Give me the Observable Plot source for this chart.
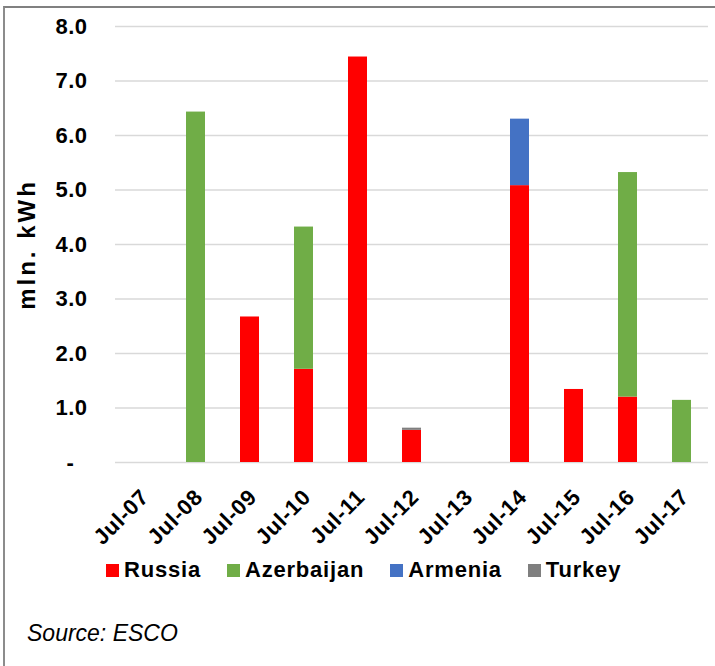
<!DOCTYPE html>
<html>
<head>
<meta charset="utf-8">
<script src="https://cdn.jsdelivr.net/npm/d3@7"></script>
<script src="https://cdn.jsdelivr.net/npm/@observablehq/plot@0.6"></script>
<style>
  html, body { margin: 0; padding: 0; background: #fff; overflow: hidden; }
  #wrap { position: relative; width: 715px; height: 666px; font-family: Arial, "Liberation Sans", sans-serif; overflow: hidden; }
  #frame { position: absolute; left: 3px; top: 6px; width: 900px; height: 900px;
           border-left: 2px solid #8c8c8c; border-top: 2px solid #808080; }
  #chart { position: absolute; left: 0; top: 0; }
  #chart svg g[aria-label="y-axis tick label"] text { letter-spacing: 0.5px; }
  #chart svg g[aria-label="x-axis tick label"] text { letter-spacing: 0.6px; }
  #chart svg g[aria-label="text"] text { letter-spacing: 3px; }
  #legend { position: absolute; left: 106px; top: 560px; }
  #legend .leg-swatches { font-family: Arial, "Liberation Sans", sans-serif; font-size: 22px; font-weight: bold;
                          letter-spacing: 0.8px; color: #000; margin: 0; min-height: 20px; line-height: 20px; }
  #legend .leg-swatch { margin-right: 26px; }
  #legend .leg-swatch > svg { margin-right: 5px; }
  #source { position: absolute; left: 27px; top: 622px; font-size: 23px; line-height: 23px; font-style: italic; color: #000; }
</style>
</head>
<body>
<div id="wrap">
  <div id="frame"></div>
  <div id="chart"></div>
  <div id="legend"></div>
  <div id="source"></div>
</div>
<script>
// Electricity exports by destination, million kWh, July of each year
const months = ["Jul-07", "Jul-08", "Jul-09", "Jul-10", "Jul-11", "Jul-12", "Jul-13", "Jul-14", "Jul-15", "Jul-16", "Jul-17"];
const russia     = [0, 0,    2.67, 1.71, 7.44, 0.59, 0, 5.08, 1.34, 1.20, 0];
const azerbaijan = [0, 6.43, 0,    2.61, 0,    0,    0, 0,    0,    4.12, 1.14];
const armenia    = [0, 0,    0,    0,    0,    0,    0, 1.22, 0,    0,    0];
const turkey     = [0, 0,    0,    0,    0,    0.04, 0, 0,    0,    0,    0];

const countries = ["Russia", "Azerbaijan", "Armenia", "Turkey"];
const colors = ["#ff0000", "#70ad47", "#4472c4", "#7f7f7f"];
const yTicks = [0, 1, 2, 3, 4, 5, 6, 7, 8];
const yLabel = "mln. kWh";
const sourceText = "Source: ESCO";

// Long table: one row per month and country, stacked in country order
const series = [russia, azerbaijan, armenia, turkey];
const rows = countries.flatMap((country, k) =>
  months.map((month, i) => ({month, country, value: series[k][i]}))
);

const font = "Arial, 'Liberation Sans', sans-serif";

const chart = Plot.plot({
  width: 715,
  height: 560,
  marginLeft: 115,
  marginRight: 7,
  marginTop: 26,
  marginBottom: 98,
  style: {fontFamily: font, background: "transparent", color: "#000", overflow: "visible"},
  x: {domain: months, paddingInner: 0.65, paddingOuter: 0.315, label: null},
  y: {domain: [0, 8], label: null},
  color: {domain: countries, range: colors},
  marks: [
    Plot.ruleY(yTicks, {stroke: "#d9d9d9", strokeWidth: 1.6}),
    Plot.barY(rows, {x: "month", y: "value", fill: "country"}),
    Plot.axisY({
      ticks: yTicks,
      tickSize: 0,
      tickPadding: 28,
      tickFormat: d => d === 0 ? "-\u00a0\u00a0" : d.toFixed(1),
      fontSize: 22,
      fontWeight: "bold",
      label: null
    }),
    Plot.axisX({
      tickSize: 0,
      tickRotate: -45,
      tickPadding: 31,
      dx: 3,
      fontSize: 22,
      fontWeight: "bold",
      label: null
    }),
    Plot.text([yLabel], {
      frameAnchor: "left",
      textAnchor: "middle",
      text: d => d,
      rotate: -90,
      dx: -88,
      fontSize: 24,
      fontWeight: "bold",
      fill: "#000"
    })
  ]
});
document.getElementById("chart").append(chart);

const legend = Plot.legend({
  color: {domain: countries, range: colors},
  className: "leg",
  swatchSize: 13
});
document.getElementById("legend").append(legend);

document.getElementById("source").textContent = sourceText;
</script>
</body>
</html>
